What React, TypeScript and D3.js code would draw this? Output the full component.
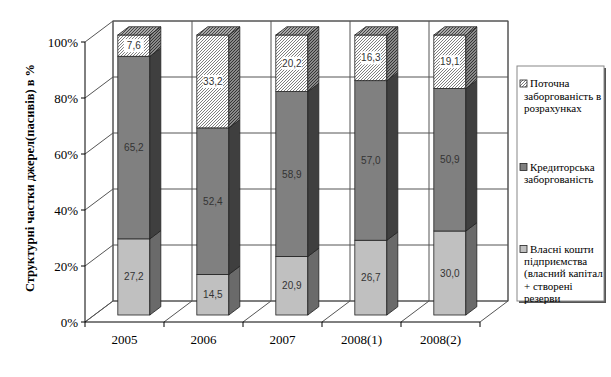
import React from "react";
import * as d3 from "d3";

const categories = ["2005", "2006", "2007", "2008(1)", "2008(2)"];
const ownFunds = [27.2, 14.5, 20.9, 26.7, 30.0];
const creditorDebt = [65.2, 52.4, 58.9, 57.0, 50.9];
const currentDebt = [7.6, 33.2, 20.2, 16.3, 19.1];
const yTicks = [0, 20, 40, 60, 80, 100];
const seriesNames = [
  ["Поточна", "заборгованість в", "розрахунках"],
  ["Кредиторська", "заборгованість"],
  ["Власні кошти", "підприємства", "(власний капітал", "+ створені", "резерви"],
];

const W = 611;
const H = 377;
const DX = 28;
const DY = 21;
const D0 = 0.333;
const SIDE = 11;
const SERIF = "'Liberation Serif', 'Times New Roman', 'DejaVu Serif', serif";
const SANS = "'Liberation Sans', Arial, sans-serif";

function Hatch({ id, bg, fg }: { id: string; bg: string; fg: string }) {
  return (
    <pattern id={id} patternUnits="userSpaceOnUse" width="3" height="3">
      <rect width="3" height="3" fill={bg} />
      <path d="M-1,1 L1,-1 M0,3 L3,0 M2,4 L4,2" stroke={fg} strokeWidth="0.9" />
    </pattern>
  );
}

export default function App() {
  const x = d3.scaleBand<string>().domain(categories).range([85, 480]).padding(0);
  const y = d3.scaleLinear().domain([0, 100]).range([322, 42]);
  const bw = x.bandwidth();
  const barW = 32;
  const sx = (v: number, d: number) => v + DX * d;
  const sy = (v: number, d: number) => v - DY * d;
  const sideDy = (SIDE * DY) / DX;

  const stacked = categories.map((c, i) => {
    const vals = [ownFunds[i], creditorDebt[i], currentDebt[i]];
    const tot = d3.sum(vals);
    let acc = 0;
    return vals.map((v, k) => {
      const s0 = (acc / tot) * 100;
      acc += v;
      const s1 = (acc / tot) * 100;
      return { c, k, v, s0, s1 };
    });
  });

  const frontFill = ["#c0c0c0", "#808080", "url(#hatchFront)"];
  const sideFill = ["#6a6a6a", "#3f3f3f", "url(#hatchSide)"];
  const grid = "#555";
  const boundaries = categories.map((c) => x(c) as number).concat([x.range()[1]]);

  return (
    <svg width={W} height={H} style={{ position: "absolute", left: 0, top: 0, background: "#fff" }}>
      <defs>
        <Hatch id="hatchFront" bg="#ffffff" fg="#707070" />
        <Hatch id="hatchSide" bg="#8a8a8a" fg="#2a2a2a" />
        <Hatch id="hatchTop" bg="#a8a8a8" fg="#3a3a3a" />
      </defs>

      {/* back wall */}
      <rect x={sx(85, 1)} y={sy(y(100), 1)} width={395} height={y(0) - y(100)} fill="#fff" stroke={grid} strokeWidth={1} />
      {yTicks.map((t) => (
        <g key={"g" + t}>
          <line x1={sx(85, 1)} x2={sx(480, 1)} y1={sy(y(t), 1)} y2={sy(y(t), 1)} stroke={grid} strokeWidth={1} />
          <line x1={85} y1={y(t)} x2={sx(85, 1)} y2={sy(y(t), 1)} stroke={grid} strokeWidth={1} />
          <line x1={81} x2={85} y1={y(t)} y2={y(t)} stroke="#000" strokeWidth={1} />
          <text x={78} y={y(t)} dy="0.35em" textAnchor="end" fontFamily={SERIF} fontSize={13} fill="#000">
            {t}%
          </text>
        </g>
      ))}
      {boundaries.map((b, i) => (
        <g key={"b" + i}>
          <line x1={sx(b, 1)} x2={sx(b, 1)} y1={sy(y(100), 1)} y2={sy(y(0), 1)} stroke={grid} strokeWidth={1} />
          <line x1={b} y1={y(0)} x2={sx(b, 1)} y2={sy(y(0), 1)} stroke={grid} strokeWidth={1} />
          <line x1={b} x2={b} y1={y(0)} y2={y(0) + 5} stroke="#000" strokeWidth={1} />
        </g>
      ))}
      <line x1={85} x2={85} y1={y(100)} y2={y(0)} stroke="#000" strokeWidth={1} />
      <line x1={85} x2={480} y1={y(0)} y2={y(0)} stroke="#000" strokeWidth={1} />

      {categories.map((c) => (
        <text key={"cl" + c} x={(x(c) as number) + bw / 2} y={339} dy="0.35em" textAnchor="middle" fontFamily={SERIF} fontSize={13} fill="#000">
          {c}
        </text>
      ))}

      {/* bars */}
      {stacked.map((segs, i) => {
        const c = categories[i];
        const xl = sx((x(c) as number) + (bw - barW) / 2, D0);
        const xr = xl + barW;
        return (
          <g key={"bar" + c}>
            {segs.map((s) => {
              const yt = sy(y(s.s1), D0);
              const yb = sy(y(s.s0), D0);
              const side = `${xr},${yb} ${xr},${yt} ${xr + SIDE},${yt - sideDy} ${xr + SIDE},${yb - sideDy}`;
              return (
                <g key={"s" + s.k}>
                  <rect x={xl} y={yt} width={barW} height={yb - yt} fill={frontFill[s.k]} stroke="#222" strokeWidth={0.8} />
                  <polygon points={side} fill={sideFill[s.k]} stroke="#222" strokeWidth={0.8} />
                  {s.k === 2 && (
                    <polygon
                      points={`${xl},${yt} ${xr},${yt} ${xr + SIDE},${yt - sideDy} ${xl + SIDE},${yt - sideDy}`}
                      fill="url(#hatchTop)"
                      stroke="#222"
                      strokeWidth={0.8}
                    />
                  )}
                </g>
              );
            })}
            {segs.map((s) => {
              const yt = sy(y(s.s1), D0);
              const yb = sy(y(s.s0), D0);
              const cy = (yt + yb) / 2;
              const cx = xl + barW / 2;
              const label = s.v.toFixed(1).replace(".", ",");
              return (
                <g key={"l" + s.k}>
                  {s.k === 2 && <rect x={cx - 10} y={cy - 6.5} width={20} height={13} fill="#fff" />}
                  <text x={cx} y={cy} dy="0.35em" textAnchor="middle" fontFamily={SANS} fontSize={10} fill="#333">
                    {label}
                  </text>
                </g>
              );
            })}
          </g>
        );
      })}

      {/* y axis title */}
      <text
        transform={`translate(30,178) rotate(-90)`}
        textAnchor="middle"
        dy="0.35em"
        fontFamily={SERIF}
        fontWeight="bold"
        fontSize={12.5}
        fill="#000"
      >
        Структурні частки джерел(пасивів) в %
      </text>

      {/* legend */}
      <rect x={519} y={68} width={87} height={235} fill="#555" />
      <rect x={517} y={66} width={87} height={235} fill="#fff" stroke="#888" strokeWidth={1} />
      {[
        { y0: 83.5, fill: "url(#hatchFront)", k: 0 },
        { y0: 167, fill: "#808080", k: 1 },
        { y0: 249, fill: "#c0c0c0", k: 2 },
      ].map((e) => (
        <g key={"lg" + e.k}>
          <rect x={520} y={e.y0 - 3.5} width={7} height={7} fill={e.fill} stroke="#222" strokeWidth={0.8} />
          {seriesNames[e.k].map((ln, j) => (
            <text key={j} x={j === 0 ? 530 : 524} y={e.y0 + j * 12.3} dy="0.35em" fontFamily={SERIF} fontSize={11} fill="#000">
              {ln}
            </text>
          ))}
        </g>
      ))}
    </svg>
  );
}
